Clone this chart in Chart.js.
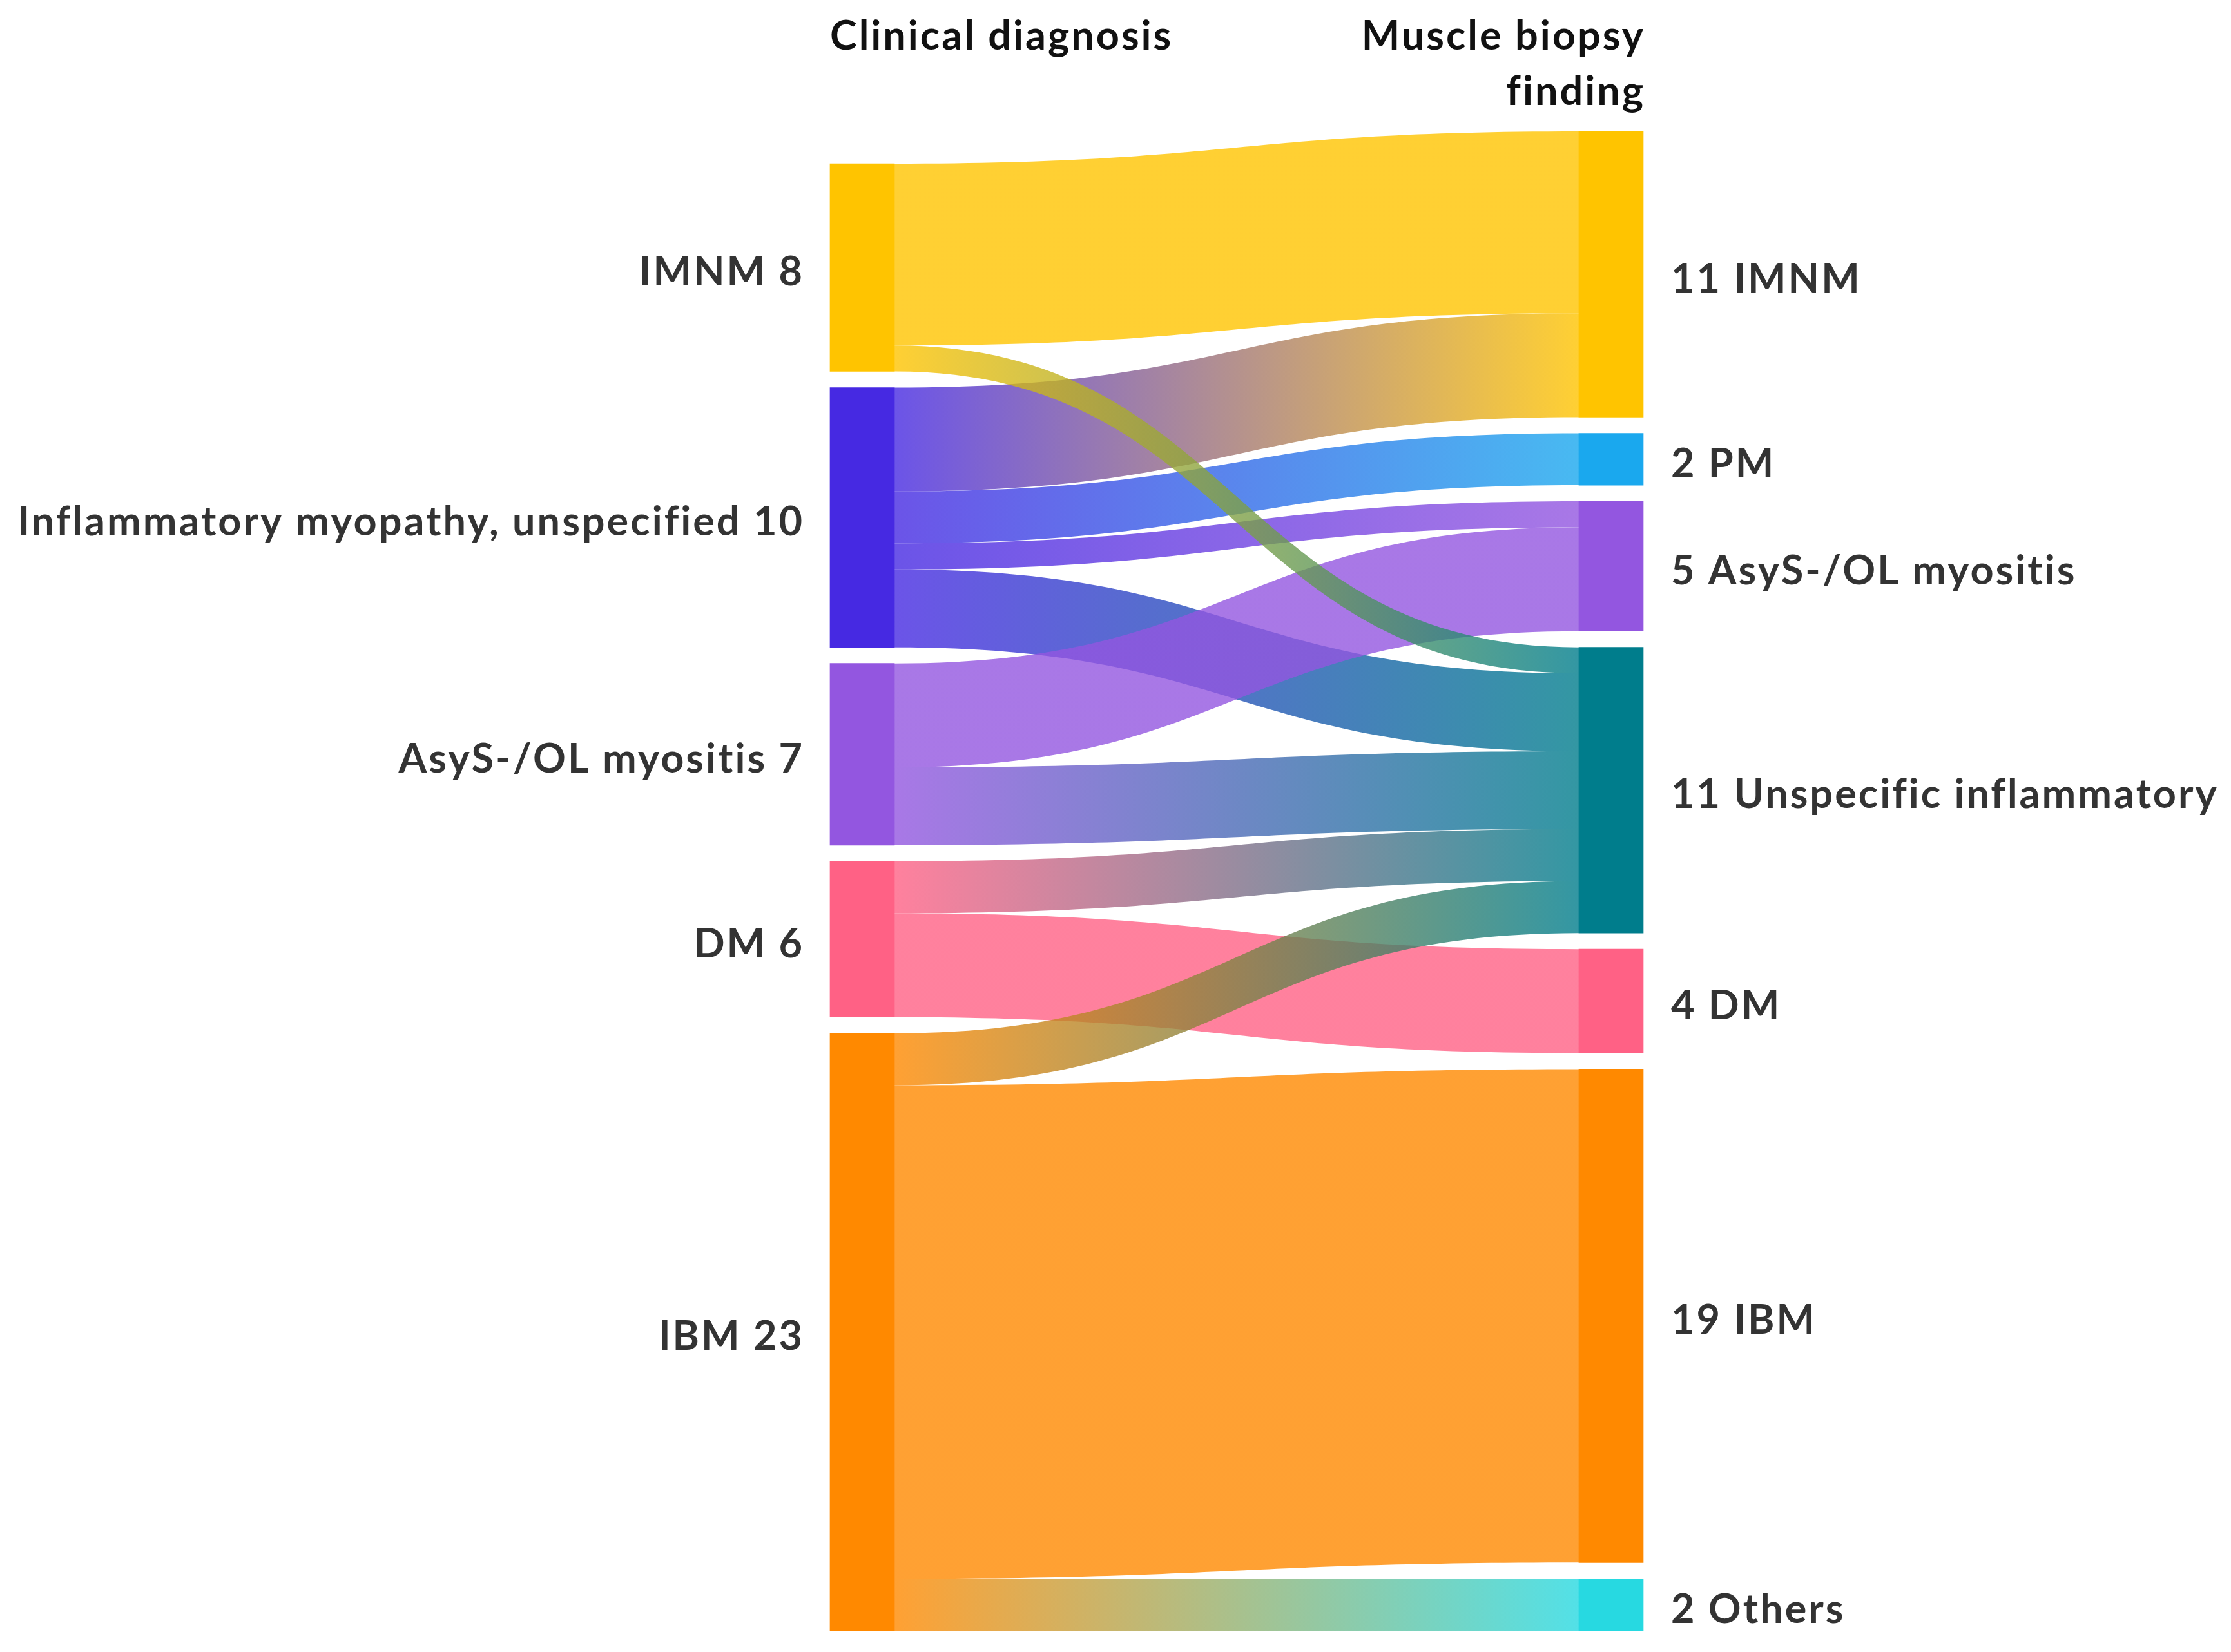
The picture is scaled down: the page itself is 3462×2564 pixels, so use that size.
<!DOCTYPE html>
<html lang="en">
<head>
    <meta charset="UTF-8">
    <title>Clinical diagnosis vs muscle biopsy finding</title>
    <script src="https://cdn.jsdelivr.net/npm/chart.js"></script>
    <style>
        html, body { margin: 0; padding: 0; background: #fff; }
        #wrap { width: 3462px; height: 2564px; position: relative; }
    </style>
</head>
<body>
    <div id="wrap"><canvas id="sankey"></canvas></div>

    <script>
        // Left column: clinical diagnosis
        const clinicalLabels = ['IMNM', 'Inflammatory myopathy, unspecified', 'AsyS-/OL myositis', 'DM', 'IBM'];
        const clinicalCounts = [8, 10, 7, 6, 23];

        // Right column: muscle biopsy finding
        const biopsyLabels = ['IMNM', 'PM', 'AsyS-/OL myositis', 'Unspecific inflammatory', 'DM', 'IBM', 'Others'];
        const biopsyCounts = [11, 2, 5, 11, 4, 19, 2];

        // Flows (index into clinical -> index into biopsy)
        const flowFrom   = [0, 0, 1, 1, 1, 1, 2, 2, 3, 3, 4, 4, 4];
        const flowTo     = [0, 3, 0, 1, 2, 3, 2, 3, 3, 4, 3, 5, 6];
        const flowCounts = [7, 1, 4, 2, 1, 3, 4, 3, 2, 4, 2, 19, 2];

        // styles
        const clinicalColors = ['#FFC400', '#4629E2', '#9356E0', '#FF6185', '#FF8900'];
        const biopsyColors = ['#FFC400', '#1AA8EE', '#9356E0', '#007D8C', '#FF6185', '#FF8900', '#27D9E1'];
        const drawOrder = [2, 3, 4, 5, 0, 6, 7, 8, 9, 10, 11, 12, 1]; // which flow lies on top
        const GAP = 0.62;        // space between nodes, in count units
        const NODE_W = 100;      // node width, px
        const FLOW_ALPHA = 0.8;
        const LABEL_FONT = 'bold 63px Lato';
        const TITLE_FONT = 'bold 63px Lato';
        const SPACING = 3;       // px letter spacing

        const sum = a => a.reduce((s, v) => s + v, 0);
        const leftSpan = sum(clinicalCounts) + GAP * (clinicalCounts.length - 1);
        const rightSpan = sum(biopsyCounts) + GAP * (biopsyCounts.length - 1);
        const yMax = Math.max(leftSpan, rightSpan);

        // stack nodes in each column, aligned to the bottom
        function stack(counts, span) {
            let pos = yMax - span;
            return counts.map(c => {
                const node = [pos, pos + c];
                pos += c + GAP;
                return node;
            });
        }
        const leftNodes = stack(clinicalCounts, leftSpan);
        const rightNodes = stack(biopsyCounts, rightSpan);

        // where each flow sits on its source and target node
        const outUsed = leftNodes.map(n => n[0]);
        const inUsed = rightNodes.map(n => n[0]);
        const flows = flowCounts.map((v, i) => {
            const s = flowFrom[i], t = flowTo[i];
            const f = { s, t, v, y0: outUsed[s], y1: inUsed[t] };
            outUsed[s] += v;
            inUsed[t] += v;
            return f;
        });

        function rgba(hex, a) {
            const n = parseInt(hex.slice(1), 16);
            return `rgba(${(n >> 16) & 255}, ${(n >> 8) & 255}, ${n & 255}, ${a})`;
        }

        const nodeBars = leftNodes.map(n => ({ x: 0, y: n }))
            .concat(rightNodes.map(n => ({ x: 1, y: n })));

        const flowPlugin = {
            id: 'flows',
            beforeDatasetsDraw(chart) {
                const { ctx, scales: { x, y } } = chart;
                const x0 = x.getPixelForValue(0) + NODE_W / 2;
                const x1 = x.getPixelForValue(1) - NODE_W / 2;
                const xm = (x0 + x1) / 2;
                ctx.save();
                drawOrder.forEach(i => {
                    const f = flows[i];
                    const a0 = y.getPixelForValue(f.y0), b0 = y.getPixelForValue(f.y0 + f.v);
                    const a1 = y.getPixelForValue(f.y1), b1 = y.getPixelForValue(f.y1 + f.v);
                    const grad = ctx.createLinearGradient(x0, 0, x1, 0);
                    grad.addColorStop(0, rgba(clinicalColors[f.s], FLOW_ALPHA));
                    grad.addColorStop(1, rgba(biopsyColors[f.t], FLOW_ALPHA));
                    ctx.fillStyle = grad;
                    ctx.beginPath();
                    ctx.moveTo(x0, a0);
                    ctx.bezierCurveTo(xm, a0, xm, a1, x1, a1);
                    ctx.lineTo(x1, b1);
                    ctx.bezierCurveTo(xm, b1, xm, b0, x0, b0);
                    ctx.closePath();
                    ctx.fill();
                });
                ctx.restore();
            },
            afterDraw(chart) {
                const { ctx, chartArea, scales: { x, y } } = chart;
                const leftEdge = x.getPixelForValue(0) - NODE_W / 2;
                const rightEdge = x.getPixelForValue(1) + NODE_W / 2;
                const dy = 28;
                ctx.save();
                ctx.letterSpacing = SPACING + 'px';
                ctx.font = LABEL_FONT;
                ctx.fillStyle = '#333333';
                ctx.textBaseline = 'alphabetic';
                ctx.textAlign = 'right';
                leftNodes.forEach((n, i) => {
                    const cy = y.getPixelForValue((n[0] + n[1]) / 2);
                    ctx.fillText(clinicalLabels[i] + ' ' + clinicalCounts[i], leftEdge - 43 + SPACING, cy + dy);
                });
                ctx.textAlign = 'left';
                rightNodes.forEach((n, i) => {
                    const cy = y.getPixelForValue((n[0] + n[1]) / 2);
                    ctx.fillText(biopsyCounts[i] + ' ' + biopsyLabels[i], rightEdge + 43, cy + dy);
                });

                // column titles
                ctx.font = TITLE_FONT;
                ctx.fillStyle = '#111111';
                ctx.textAlign = 'left';
                ctx.fillText('Clinical diagnosis', leftEdge, chartArea.top - 127);
                ctx.textAlign = 'right';
                ctx.fillText('Muscle biopsy', rightEdge + SPACING, chartArea.top - 127);
                ctx.fillText('finding', rightEdge + SPACING, chartArea.top - 41);
                ctx.restore();
            }
        };

        function draw() {
            new Chart(document.getElementById('sankey'), {
                type: 'bar',
                data: {
                    datasets: [{
                        data: nodeBars,
                        backgroundColor: clinicalColors.concat(biopsyColors),
                        barThickness: NODE_W,
                        borderWidth: 0,
                        borderSkipped: false,
                        clip: false
                    }]
                },
                options: {
                    responsive: true,
                    maintainAspectRatio: false,
                    devicePixelRatio: 1,
                    animation: false,
                    events: [],
                    layout: { padding: { left: 1338, right: 962, top: 204, bottom: 33 } },
                    plugins: { legend: { display: false }, tooltip: { enabled: false } },
                    scales: {
                        x: { type: 'linear', min: 0, max: 1, offset: false, display: false },
                        y: { type: 'linear', min: 0, max: yMax, reverse: true, display: false }
                    }
                },
                plugins: [flowPlugin]
            });
        }

        document.fonts.load(LABEL_FONT).then(draw, draw);
    </script>
</body>
</html>
